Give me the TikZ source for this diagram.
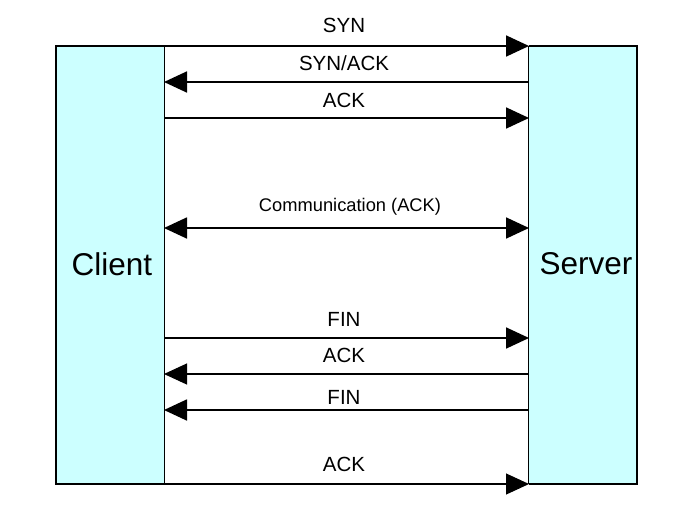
\documentclass[tikz,border=0pt]{standalone}
\usepackage{fontspec}
\setmainfont{Liberation Sans}
\usetikzlibrary{arrows.meta}
\definecolor{boxcyan}{HTML}{CCFFFF}
\begin{document}
\begin{tikzpicture}[x=1pt,y=-1pt,
  lifebox/.style={fill=boxcyan, draw=none, minimum width=108pt, minimum height=438pt, inner sep=0pt},
  boxtext/.style={font=\fontsize{31.5}{36}\selectfont, inner sep=0pt},
  frameline/.style={line width=2pt, line join=miter},
  innerline/.style={line width=1.1pt},
  msg/.style={line width=1.8pt, -{Triangle[length=23pt,width=21pt]}},
  msgthin/.style={line width=1.1pt, -{Triangle[length=23pt,width=21pt]}},
  dmsg/.style={line width=1.8pt, {Triangle[length=23pt,width=21pt]}-{Triangle[length=23pt,width=21pt]}},
  lbl/.style={font=\fontsize{20.5}{24}\selectfont, anchor=base, inner sep=0pt},
  smalllbl/.style={font=\fontsize{18.3}{21}\selectfont, anchor=base, inner sep=0pt}
]
\useasboundingbox (0,0) rectangle (692,524);
\fill[white] (0,0) rectangle (692,524);

\node[lifebox] (client) at (110,265) {};
\node[lifebox] (server) at (583,265) {};
\node[boxtext] (clientlbl) at (112,264) {Client};
\node[boxtext] (serverlbl) at (586,264) {Server};

% frame of the two boxes
\draw[frameline] (client.north east) -- (client.north west) -- (client.south west) -- (client.south east);
\draw[frameline] (server.north west) -- (server.north east) -- (server.south east) -- (server.south west);
\draw[innerline] (client.north east) -- (client.south east);
\draw[innerline] (server.north west) -- (server.south west);

% endpoints on the box edges
\coordinate (c1) at (164,46);   \coordinate (s1) at (529,46);
\coordinate (c2) at (164,82);   \coordinate (s2) at (529,82);
\coordinate (c3) at (164,118);  \coordinate (s3) at (529,118);
\coordinate (c4) at (164,228);  \coordinate (s4) at (529,228);
\coordinate (c5) at (164,338);  \coordinate (s5) at (529,338);
\coordinate (c6) at (164,374);  \coordinate (s6) at (529,374);
\coordinate (c7) at (164,410);  \coordinate (s7) at (529,410);
\coordinate (c8) at (164,484);  \coordinate (s8) at (529,484);

\draw[msg] (c1) -- (s1);
\draw[msg] (s2) -- (c2);
\draw[msg] (c3) -- (s3);
\draw[dmsg] (c4) -- (s4);
\draw[msg] (c5) -- (s5);
\draw[msgthin] (s6) -- (c6);
\draw[msg] (s7) -- (c7);
\draw[msgthin] (c8) -- (s8);

% labels
\node[lbl] (l1) at (344,33) {SYN};
\node[lbl] (l2) at (344,71) {SYN/ACK};
\node[lbl] (l3) at (344,107) {ACK};
\node[smalllbl] (l4) at (350,211) {Communication (ACK)};
\node[lbl] (l5) at (344,326) {FIN};
\node[lbl] (l6) at (344,362) {ACK};
\node[lbl] (l7) at (344,404) {FIN};
\node[lbl] (l8) at (344,471) {ACK};
\end{tikzpicture}
\end{document}
